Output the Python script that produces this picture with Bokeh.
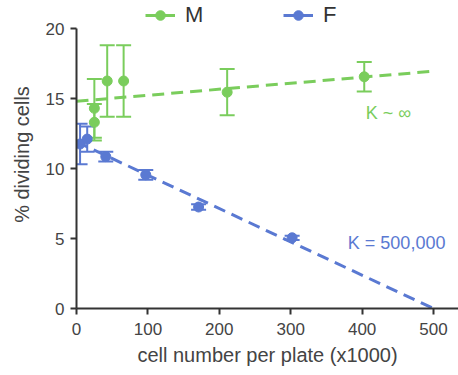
from bokeh.plotting import figure
from bokeh.models import (ColumnDataSource, Whisker, TeeHead, Legend, LegendItem,
                          Label, Range1d, FixedTicker)
from bokeh.embed import file_html
from bokeh.resources import INLINE

# ---- data ----
m_x = [25, 25, 43, 66, 211, 403]
m_y = [13.3, 14.3, 16.25, 16.25, 15.45, 16.55]
m_err = [1.3, 2.1, 2.55, 2.55, 1.65, 1.05]

f_x = [5, 15, 41, 97, 171, 302]
f_y = [11.75, 12.1, 10.85, 9.55, 7.25, 5.05]
f_err = [1.45, 0.9, 0.35, 0.35, 0.2, 0.15]

fit_x = [0, 500]
m_fit = [14.8, 16.95]
f_fit = [11.9, 0.0]

x_ticks = [0, 100, 200, 300, 400, 500]
y_ticks = [0, 5, 10, 15, 20]

GREEN = "#7acd5c"
BLUE = "#5a79d2"
FONT = "Liberation Sans"
TXT = "#444444"

p = figure(width=458, height=375, x_range=Range1d(0, 535), y_range=Range1d(0, 22.0),
           output_backend="svg", toolbar_location=None,
           min_border_left=76, min_border_right=0, min_border_top=0, min_border_bottom=67)
p.xgrid.visible = False
p.ygrid.visible = False
p.outline_line_color = None
p.background_fill_color = "white"

# fit lines
p.line(fit_x, m_fit, line_color=GREEN, line_width=3, line_dash="12 7")
p.line(fit_x, f_fit, line_color=BLUE, line_width=3, line_dash="12 7")

# error bars
def add_err(xs, ys, es, color):
    src = ColumnDataSource(dict(x=xs, upper=[y + e for y, e in zip(ys, es)],
                                lower=[y - e for y, e in zip(ys, es)]))
    w = Whisker(base="x", upper="upper", lower="lower", source=src,
                line_color=color, line_width=2,
                upper_head=TeeHead(size=15, line_color=color, line_width=2),
                lower_head=TeeHead(size=15, line_color=color, line_width=2))
    p.add_layout(w)

add_err(m_x, m_y, m_err, GREEN)
add_err(f_x, f_y, f_err, BLUE)

m_sc = p.scatter(m_x, m_y, size=10, color=GREEN)
f_sc = p.scatter(f_x, f_y, size=10, color=BLUE)

nan = float("nan")
m_leg = p.line(x=[nan], y=[nan], line_color=GREEN, line_width=3)
f_leg = p.line(x=[nan], y=[nan], line_color=BLUE, line_width=3)

legend = Legend(items=[LegendItem(label="M", renderers=[m_leg, m_sc]),
                       LegendItem(label="F", renderers=[f_leg, f_sc])],
                orientation="horizontal", location=(69, 280), spacing=78,
                glyph_width=30, glyph_height=24, label_standoff=10,
                padding=0, margin=0, background_fill_alpha=0,
                border_line_color=None, label_text_font_size="22px",
                label_text_font=FONT, label_text_color="#333333")
p.add_layout(legend)

p.add_layout(Label(x=405, y=14.0, text="K ~ ∞", text_color=GREEN, text_font=FONT,
                   text_font_size="18px", text_baseline="middle"))
p.add_layout(Label(x=380, y=4.7, text="K = 500,000", text_color=BLUE, text_font=FONT,
                   text_font_size="18px", text_baseline="middle"))

for ax in (p.xaxis, p.yaxis):
    ax.axis_line_color = "#333333"
    ax.axis_line_width = 2
    ax.major_tick_line_color = "#333333"
    ax.major_tick_line_width = 2
    ax.major_tick_out = 6
    ax.major_tick_in = 0
    ax.minor_tick_line_color = None
    ax.major_label_text_font = FONT
    ax.major_label_text_font_size = "17px"
    ax.major_label_text_color = TXT
    ax.axis_label_text_font = FONT
    ax.axis_label_text_font_size = "20px"
    ax.axis_label_text_font_style = "normal"
    ax.axis_label_text_color = TXT

p.xaxis.ticker = FixedTicker(ticks=x_ticks)
p.yaxis.ticker = FixedTicker(ticks=y_ticks)
p.yaxis.bounds = (0, 20)
p.xaxis.axis_label = "cell number per plate (x1000)"
p.yaxis.axis_label = "% dividing cells"
p.xaxis.major_label_standoff = 8
p.yaxis.major_label_standoff = 6
p.xaxis.axis_label_standoff = 6
p.yaxis.axis_label_standoff = 10

open("out.html", "w").write(file_html(p, INLINE))
